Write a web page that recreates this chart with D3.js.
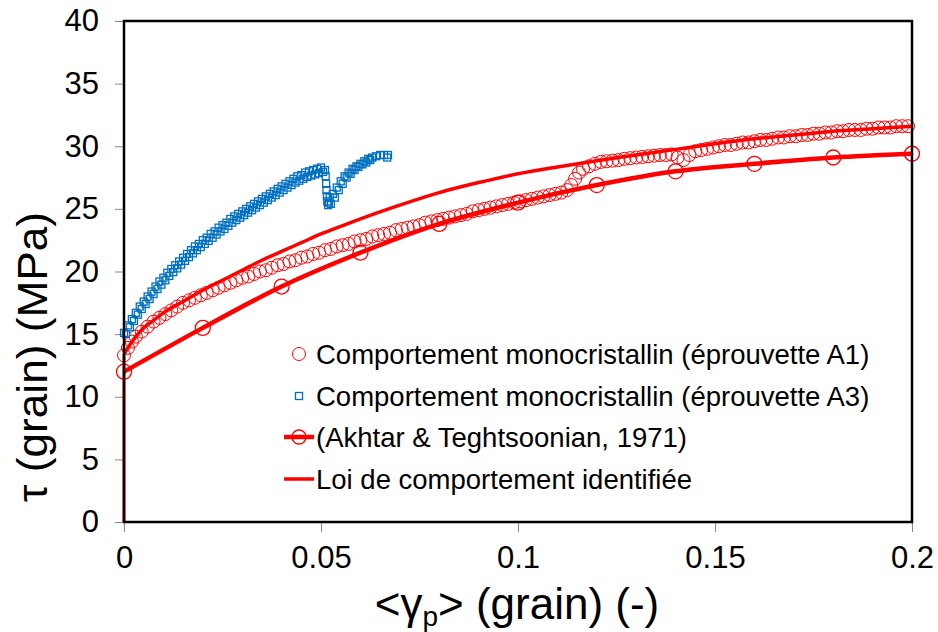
<!DOCTYPE html>
<html><head><meta charset="utf-8">
<script src="https://cdn.jsdelivr.net/npm/d3@7"></script>
<style>body{margin:0;background:#fff;} svg{display:block;font-family:"Liberation Sans",Arial,sans-serif;}</style>
</head><body>
<script>
// Comportement monocristallin (éprouvette A1): [gamma, tau]
const a1Points = [[0,13.3],[0.001,13.9],[0.002,14.4],[0.003,14.8],[0.0045,15.2],[0.006,15.6],[0.0075,16.0],[0.009,16.3],[0.0105,16.6],[0.012,16.9],[0.0135,17.2],[0.015,17.5],[0.0165,17.7],[0.018,17.9],[0.0195,18.1],[0.021,18.3],[0.0225,18.5],[0.024,18.7],[0.0255,18.9],[0.027,19.1],[0.0285,19.3],[0.03,19.5],[0.0315,19.6],[0.033,19.8],[0.0345,20.0],[0.036,20.1],[0.0375,20.3],[0.039,20.5],[0.0405,20.6],[0.042,20.8],[0.0435,20.9],[0.045,21.1],[0.0465,21.2],[0.048,21.4],[0.0495,21.5],[0.051,21.7],[0.0525,21.8],[0.054,22.0],[0.0555,22.1],[0.057,22.2],[0.0585,22.4],[0.06,22.5],[0.0615,22.6],[0.063,22.8],[0.0645,22.9],[0.066,23.0],[0.0675,23.1],[0.069,23.3],[0.0705,23.4],[0.072,23.5],[0.0735,23.6],[0.075,23.7],[0.0765,23.9],[0.078,24.0],[0.0795,24.1],[0.081,24.2],[0.0825,24.3],[0.084,24.4],[0.0855,24.5],[0.087,24.6],[0.0885,24.8],[0.09,24.9],[0.0915,25.0],[0.093,25.1],[0.0945,25.2],[0.096,25.3],[0.0975,25.4],[0.099,25.5],[0.1005,25.6],[0.102,25.7],[0.1035,25.8],[0.105,25.9],[0.1065,26.0],[0.108,26.1],[0.1095,26.2],[0.111,26.3],[0.1125,26.5],[0.1135,26.9],[0.1145,27.4],[0.1155,27.9],[0.1165,28.2],[0.118,28.4],[0.1195,28.6],[0.121,28.75],[0.1225,28.8],[0.124,28.85],[0.1255,28.9],[0.127,29.0],[0.1285,29.05],[0.13,29.1],[0.1315,29.15],[0.133,29.2],[0.1345,29.25],[0.136,29.3],[0.1375,29.3],[0.139,29.35],[0.1405,29.1],[0.142,28.9],[0.1435,29.3],[0.145,29.6],[0.1465,29.7],[0.148,29.8],[0.1495,29.9],[0.151,30.0],[0.1525,30.1],[0.154,30.1],[0.1555,30.2],[0.157,30.3],[0.1585,30.3],[0.16,30.4],[0.1615,30.5],[0.163,30.5],[0.1645,30.6],[0.166,30.7],[0.1675,30.7],[0.169,30.8],[0.1705,30.8],[0.172,30.9],[0.1735,30.9],[0.175,31.0],[0.1765,31.0],[0.178,31.1],[0.1795,31.1],[0.181,31.2],[0.1825,31.2],[0.184,31.3],[0.1855,31.3],[0.187,31.3],[0.1885,31.4],[0.19,31.4],[0.1915,31.5],[0.193,31.5],[0.1945,31.5],[0.196,31.6],[0.1975,31.6],[0.199,31.6]];

// Comportement monocristallin (éprouvette A3): [gamma, tau]
const a3Points = [[0,15.1],[0.0005,15.0],[0.001,15.7],[0.0015,15.55],[0.002,16.2],[0.0025,16.05],[0.003,16.7],[0.0035,16.55],[0.004,17.2],[0.0045,17.0],[0.005,17.6],[0.0055,17.4],[0.006,18.0],[0.0065,17.8],[0.007,18.4],[0.0075,18.2],[0.008,18.8],[0.0085,18.6],[0.009,19.2],[0.0095,18.95],[0.01,19.5],[0.0105,19.3],[0.011,19.9],[0.0115,19.65],[0.012,20.2],[0.0125,19.95],[0.013,20.5],[0.0135,20.25],[0.014,20.8],[0.0145,20.55],[0.015,21.1],[0.0155,20.85],[0.016,21.4],[0.0165,21.15],[0.017,21.7],[0.0175,21.45],[0.018,22.0],[0.0185,21.7],[0.019,22.2],[0.0195,21.95],[0.02,22.5],[0.0205,22.2],[0.021,22.7],[0.0215,22.45],[0.022,23.0],[0.0225,22.7],[0.023,23.2],[0.0235,22.95],[0.024,23.5],[0.0245,23.2],[0.025,23.7],[0.0255,23.4],[0.026,23.9],[0.0265,23.65],[0.027,24.2],[0.0275,23.9],[0.028,24.4],[0.0285,24.1],[0.029,24.6],[0.0295,24.3],[0.03,24.8],[0.0305,24.5],[0.031,25.0],[0.0315,24.7],[0.032,25.2],[0.0325,24.9],[0.033,25.4],[0.0335,25.1],[0.034,25.6],[0.0345,25.3],[0.035,25.8],[0.0355,25.5],[0.036,26.0],[0.0365,25.7],[0.037,26.2],[0.0375,25.9],[0.038,26.4],[0.0385,26.1],[0.039,26.6],[0.0395,26.3],[0.04,26.8],[0.0405,26.5],[0.041,27.0],[0.0415,26.7],[0.042,27.2],[0.0425,26.9],[0.043,27.4],[0.0435,27.1],[0.044,27.6],[0.0445,27.25],[0.045,27.7],[0.0455,27.4],[0.046,27.9],[0.0465,27.55],[0.047,28.0],[0.0475,27.65],[0.048,28.1],[0.0485,27.75],[0.049,28.2],[0.0495,27.85],[0.05,28.3],[0.0505,27.95],[0.051,28.1],[0.0512,27.6],[0.0513,27.0],[0.0514,26.5],[0.0515,26.0],[0.0516,25.6],[0.0518,25.3],[0.052,25.5],[0.0522,25.9],[0.0525,25.4],[0.053,26.2],[0.0535,25.9],[0.054,26.7],[0.0545,26.5],[0.055,27.2],[0.0555,27.0],[0.056,27.6],[0.0565,27.5],[0.057,27.9],[0.0575,27.8],[0.058,28.2],[0.0585,28.1],[0.059,28.4],[0.0595,28.35],[0.06,28.6],[0.0605,28.55],[0.061,28.8],[0.0615,28.7],[0.062,29.0],[0.0625,28.9],[0.063,29.1],[0.064,29.2],[0.065,29.3],[0.066,29.3],[0.067,29.3],[0.0668,29.1]];

// (Akhtar & Teghtsoonian, 1971)
const akX = [0,0.02,0.04,0.06,0.08,0.1,0.12,0.14,0.16,0.18,0.2];
const akY = [12.0,15.5,18.8,21.5,23.8,25.5,26.9,28.0,28.6,29.1,29.4];

// Loi de comportement identifiée
const loiX = [0,0,0.0025,0.005,0.0075,0.01,0.015,0.02,0.025,0.03,0.035,0.04,0.045,0.05,0.055,0.06,0.07,0.08,0.09,0.1,0.11,0.12,0.13,0.14,0.15,0.16,0.17,0.18,0.19,0.2];
const loiY = [0,13.4,14.6,15.5,16.1,16.7,17.6,18.5,19.3,20.1,20.9,21.6,22.3,23.0,23.6,24.2,25.3,26.3,27.1,27.8,28.35,28.85,29.3,29.75,30.2,30.6,30.9,31.2,31.4,31.6];

const xTicks = [0,0.05,0.1,0.15,0.2];
const xTickLabels = ["0","0.05","0.1","0.15","0.2"];
const yTicks = [0,5,10,15,20,25,30,35,40];

const legendLabels = ["Comportement monocristallin (éprouvette A1)","Comportement monocristallin (éprouvette A3)","(Akhtar & Teghtsoonian, 1971)","Loi de comportement identifiée"];

const W = 938, H = 632;
const RED = "#ff0000", BLUE = "#0070c0";
const FONT = "Liberation Sans, Arial, sans-serif";
const svg = d3.select("body").append("svg").attr("width", W).attr("height", H);

const x = d3.scaleLinear().domain([0,0.2]).range([124,912]);
const y = d3.scaleLinear().domain([0,40]).range([522,21]);

// axes
const xAxis = d3.axisBottom(x).tickValues(xTicks).tickFormat((d,i)=>xTickLabels[i]).tickSize(10).tickSizeOuter(0).tickPadding(14);
const gx = svg.append("g").attr("transform","translate(0,522)").call(xAxis);
gx.select(".domain").remove();
gx.selectAll("line").attr("stroke","#888").attr("stroke-width",1);
gx.selectAll("text").attr("font-size",31).attr("fill","#000").attr("font-family",FONT);

const yAxis = d3.axisLeft(y).tickValues(yTicks).tickSize(9).tickSizeOuter(0).tickPadding(16);
const gy = svg.append("g").attr("transform","translate(124,0)").call(yAxis);
gy.select(".domain").remove();
gy.selectAll("line").attr("stroke","#888").attr("stroke-width",1);
gy.selectAll("text").attr("font-size",31).attr("fill","#000").attr("font-family",FONT);

const plot = svg.append("g");
const line = d3.line().x(d=>x(d[0])).y(d=>y(d[1]));
const smoothLine = d3.line().x(d=>x(d[0])).y(d=>y(d[1])).curve(d3.curveMonotoneX);

// Akhtar thick line + markers
const akData = akX.map((v,i)=>[v,akY[i]]);
plot.append("path").datum(akData).attr("d",smoothLine).attr("fill","none").attr("stroke",RED).attr("stroke-width",4.5).attr("stroke-linejoin","round");
plot.selectAll("circle.ak").data(akData).enter().append("circle").attr("class","ak")
  .attr("cx",d=>x(d[0])).attr("cy",d=>y(d[1])).attr("r",7.5).attr("fill","none").attr("stroke",RED).attr("stroke-width",1.3);

// Loi line (vertical start then smooth curve)
const loiData = loiX.map((v,i)=>[v,loiY[i]]);
plot.append("path").datum(loiData.slice(0,2)).attr("d",line).attr("fill","none").attr("stroke",RED).attr("stroke-width",3);
plot.append("path").datum(loiData.slice(1)).attr("d",smoothLine).attr("fill","none").attr("stroke",RED).attr("stroke-width",3.5).attr("stroke-linejoin","round");

// A1 circles
plot.selectAll("circle.a1").data(a1Points).enter().append("circle").attr("class","a1")
  .attr("cx",d=>x(d[0])).attr("cy",d=>y(d[1])).attr("r",6.5).attr("fill","none").attr("stroke",RED).attr("stroke-width",1);

// A3 squares
const sq = 7;
plot.selectAll("rect.a3").data(a3Points).enter().append("rect").attr("class","a3")
  .attr("x",d=>x(d[0])-sq/2).attr("y",d=>y(d[1])-sq/2).attr("width",sq).attr("height",sq)
  .attr("fill","none").attr("stroke",BLUE).attr("stroke-width",1.3);

// frame
svg.append("rect").attr("x",124).attr("y",21).attr("width",788).attr("height",501).attr("fill","none").attr("stroke","#000").attr("stroke-width",2.5);

// legend
const legY = [354,396,437,479];
const leg = svg.append("g");
leg.append("circle").attr("cx",299).attr("cy",legY[0]).attr("r",6.5).attr("fill","none").attr("stroke",RED).attr("stroke-width",1);
leg.append("rect").attr("x",299-sq/2).attr("y",legY[1]-sq/2).attr("width",sq).attr("height",sq).attr("fill","none").attr("stroke",BLUE).attr("stroke-width",1.3);
leg.append("line").attr("x1",284).attr("x2",314).attr("y1",legY[2]).attr("y2",legY[2]).attr("stroke",RED).attr("stroke-width",4.5);
leg.append("circle").attr("cx",299).attr("cy",legY[2]).attr("r",7).attr("fill","none").attr("stroke",RED).attr("stroke-width",1.3);
leg.append("line").attr("x1",284).attr("x2",314).attr("y1",legY[3]).attr("y2",legY[3]).attr("stroke",RED).attr("stroke-width",3.5);
leg.selectAll("text").data(legendLabels).enter().append("text")
  .attr("x",316).attr("y",(d,i)=>legY[i]).attr("dy","0.35em").attr("font-size",27.5).attr("fill","#000").text(d=>d);

// axis titles
svg.append("text").attr("transform","translate(47,357) rotate(-90)").attr("text-anchor","middle")
  .attr("font-size",42).attr("fill","#000").attr("textLength",290).attr("lengthAdjust","spacingAndGlyphs")
  .text("τ (grain) (MPa)");

const xt = svg.append("text").attr("x",517).attr("y",619).attr("text-anchor","middle").attr("font-size",44).attr("fill","#000");
xt.append("tspan").text("<γ");
xt.append("tspan").attr("font-size",28).attr("dy",7).text("p");
xt.append("tspan").attr("dy",-7).text("> (grain) (-)");
</script>
</body></html>
